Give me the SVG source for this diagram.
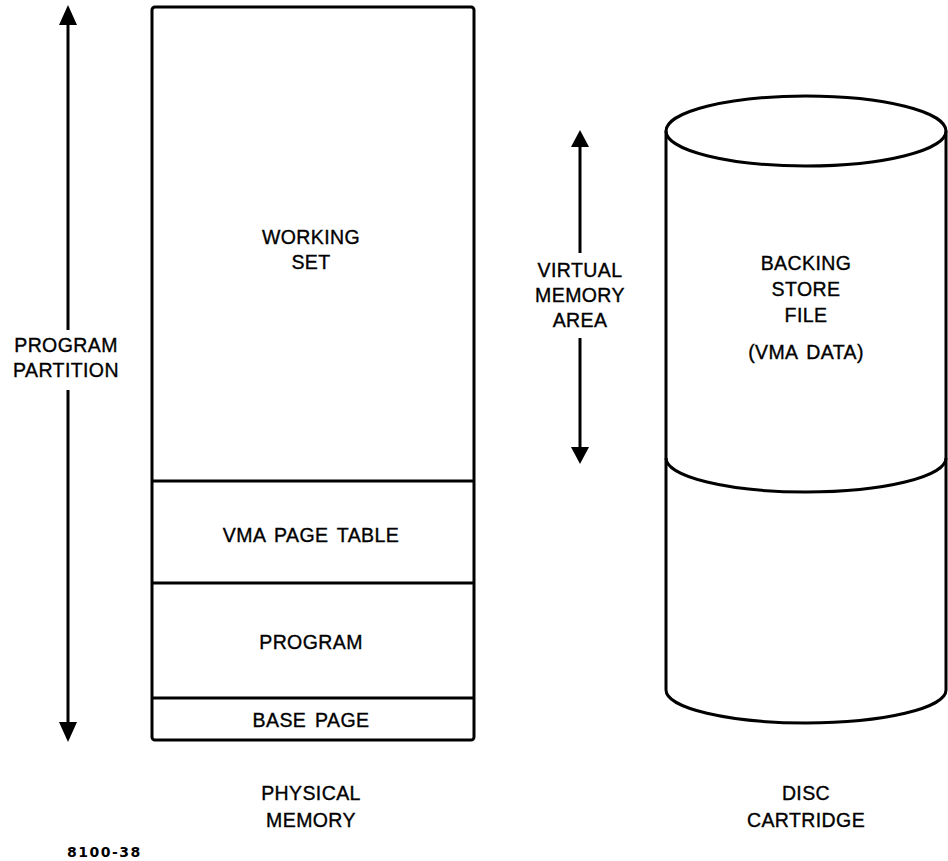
<svg xmlns="http://www.w3.org/2000/svg" width="948" height="861" viewBox="0 0 948 861">
  <defs>
    <style>
      .ln { stroke: #000; stroke-width: 3; fill: none; }
      .box { stroke: #000; stroke-width: 3; fill: #fff; }
      .lbl { font-family: "Liberation Sans", Arial, sans-serif; font-size: 19.5px; letter-spacing: 0.4px; word-spacing: 3px; fill: #000; stroke: #000; stroke-width: 0.35; text-anchor: middle; }
      .fig { font-family: "DejaVu Sans", "Liberation Sans", sans-serif; font-size: 14px; font-weight: bold; letter-spacing: 1.5px; fill: #000; }
      .head { fill: #000; }
    </style>
  </defs>
  <rect width="948" height="861" fill="#fff"/>

  <!-- dimension arrows -->
  <g id="connectors">
    <g id="program-partition-arrow">
      <line class="ln" x1="68" y1="22" x2="68" y2="330"/>
      <line class="ln" x1="68" y1="390" x2="68" y2="725"/>
      <polygon class="head" points="68,5 59,25 77,25"/>
      <polygon class="head" points="68,742 59,722 77,722"/>
    </g>
    <g id="vma-arrow">
      <line class="ln" x1="580" y1="144" x2="580" y2="253"/>
      <line class="ln" x1="580" y1="338" x2="580" y2="450"/>
      <polygon class="head" points="580,130 571,147 589,147"/>
      <polygon class="head" points="580,464 571,447 589,447"/>
    </g>
  </g>

  <g id="label-program-partition">
    <text class="lbl" x="66" y="352">PROGRAM</text>
    <text class="lbl" x="66" y="377">PARTITION</text>
  </g>
  <g id="label-vma">
    <text class="lbl" x="580" y="277">VIRTUAL</text>
    <text class="lbl" x="580" y="302">MEMORY</text>
    <text class="lbl" x="580" y="327">AREA</text>
  </g>

  <!-- physical memory stack -->
  <g id="physical-memory">
    <rect class="box" x="152" y="7" width="322" height="733" rx="3"/>
    <line class="ln" x1="152" y1="481" x2="474" y2="481"/>
    <line class="ln" x1="152" y1="583" x2="474" y2="583"/>
    <line class="ln" x1="152" y1="698" x2="474" y2="698"/>
  </g>
  <g id="working-set">
    <text class="lbl" x="311" y="244">WORKING</text>
    <text class="lbl" x="311" y="269">SET</text>
  </g>
  <g id="vma-page-table">
    <text class="lbl" x="311" y="542">VMA PAGE TABLE</text>
  </g>
  <g id="program">
    <text class="lbl" x="311" y="649">PROGRAM</text>
  </g>
  <g id="base-page">
    <text class="lbl" x="311" y="727">BASE PAGE</text>
  </g>
  <g id="label-physical-memory">
    <text class="lbl" x="311" y="800">PHYSICAL</text>
    <text class="lbl" x="311" y="827">MEMORY</text>
  </g>

  <!-- disc cartridge cylinder -->
  <g id="disc-cartridge">
    <ellipse class="ln" cx="806" cy="131" rx="140" ry="35"/>
    <path class="ln" d="M666,131 L666,690 A140,33 0 0 0 946,690 L946,131"/>
    <path class="ln" d="M666,458 A140,34 0 0 0 946,458"/>
  </g>
  <g id="backing-store">
    <text class="lbl" x="806" y="270">BACKING</text>
    <text class="lbl" x="806" y="296">STORE</text>
    <text class="lbl" x="806" y="322">FILE</text>
    <text class="lbl" x="806" y="359">(VMA DATA)</text>
  </g>
  <g id="label-disc-cartridge">
    <text class="lbl" x="806" y="800">DISC</text>
    <text class="lbl" x="806" y="827">CARTRIDGE</text>
  </g>

  <text class="fig" x="67" y="857">8100-38</text>
</svg>
